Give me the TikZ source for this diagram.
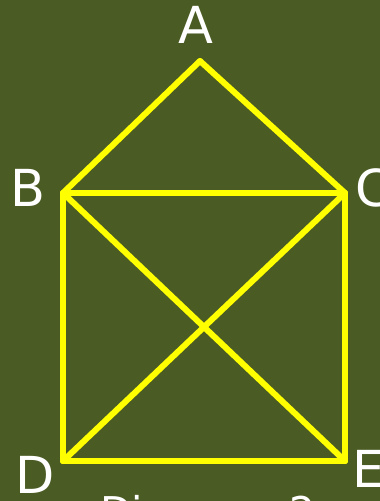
\documentclass[tikz,border=0pt]{standalone}
\usepackage{fontspec}
\setmainfont{DejaVu Sans}
\usetikzlibrary{positioning}
\definecolor{boardgreen}{HTML}{4A5B23}
\definecolor{chalkyellow}{HTML}{FFFF00}

\begin{document}
\begin{tikzpicture}[x=1pt,y=-1pt,
  edge/.style={chalkyellow,line width=6pt,line join=round,line cap=round},
  vlabel/.style={white,inner sep=0pt,font=\fontsize{51}{60}\selectfont}]
  \fill[boardgreen] (0,0) rectangle (380,501);
  \useasboundingbox (0,0) rectangle (380,501);
  \coordinate (A) at (200,61);
  \coordinate (B) at (63,193);
  \coordinate (C) at (345,193);
  \coordinate (D) at (63,461);
  \coordinate (E) at (345,461);
  \foreach \u/\v in {A/B,A/C,B/C,B/D,C/E,D/E,B/E,C/D}{\draw[edge] (\u)--(\v);}
  \node[vlabel,anchor=base] (lA) at (196,43) {A};
  \node[vlabel,anchor=base west] (lB) at (10,206) {B};
  \node[vlabel,anchor=base west] (lC) at (355,206) {C};
  \node[vlabel,anchor=base west] (lD) at (15,493) {D};
  \node[vlabel,anchor=base west] (lE) at (352,487) {E};
  \node[white,inner sep=0pt,anchor=base west,font=\fontsize{41}{48}\selectfont] (caption) at (100,526) {Diagram 2};
\end{tikzpicture}
\end{document}
